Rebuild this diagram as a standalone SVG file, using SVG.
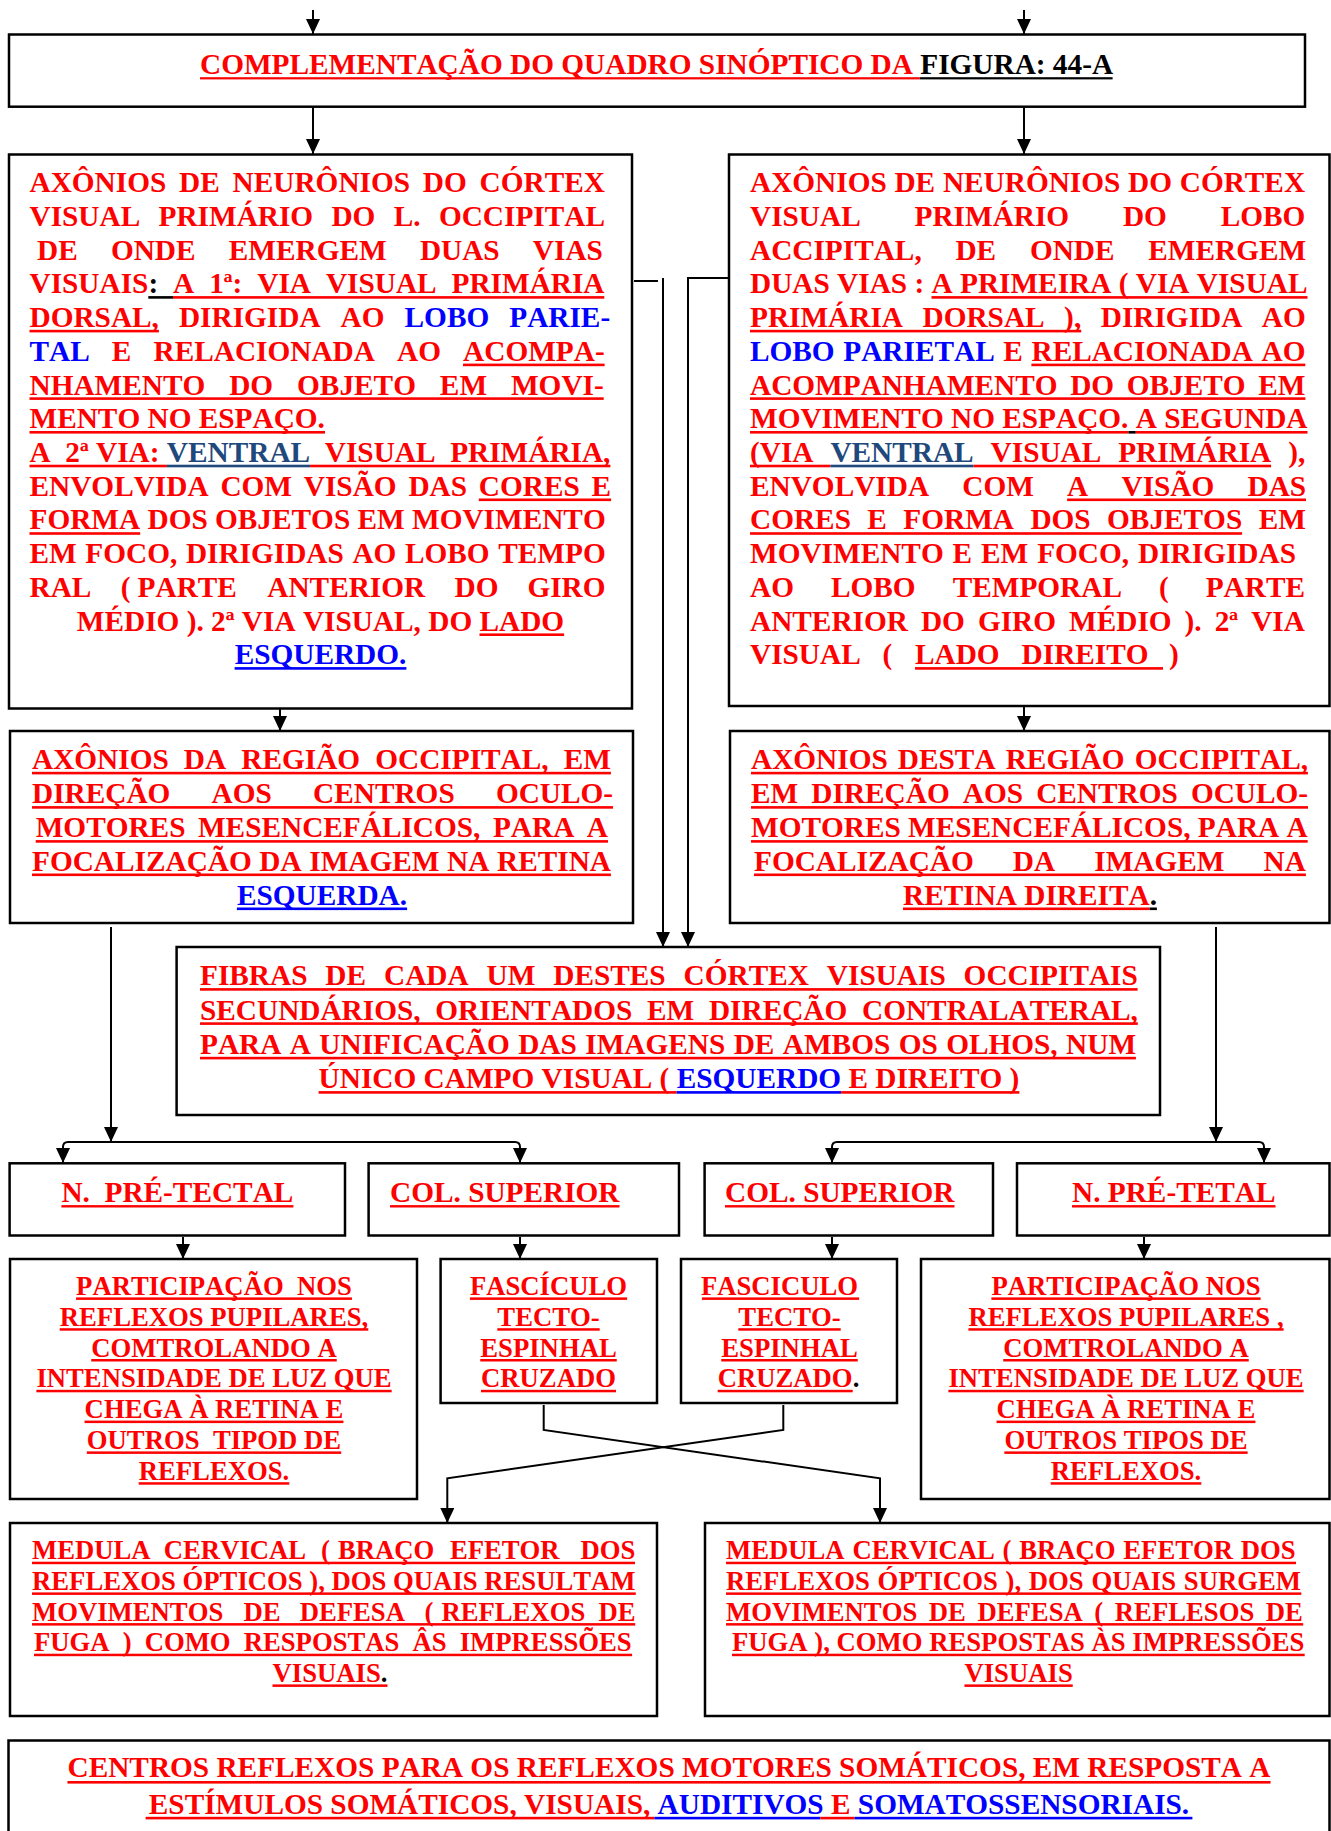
<svg xmlns="http://www.w3.org/2000/svg" width="1331" height="1831" viewBox="0 0 1331 1831">
<style>
  text { font-family: "Liberation Serif", "Times New Roman", serif; font-weight: bold; font-size: 29.3px; fill: #f00; font-kerning: none; }
  text.s { font-size: 26.7px; }
  text.m { text-anchor: middle; }
  .b { fill: #00f; }
  .k { fill: #000; }
  .v { fill: #1f497d; }
  .bx { fill: #fff; stroke: #000; stroke-width: 2.5; }
  .ln { fill: none; stroke: #000; stroke-width: 2; }
  .ar { marker-end: url(#ah); }
  /* underline bars */
  .ur { fill: #f00; }
  .ub { fill: #00f; }
  .uk { fill: #000; }
  .uv { fill: #1f497d; }
</style>
<defs>
  <marker id="ah" markerWidth="16" markerHeight="14" refX="15" refY="7" orient="auto" markerUnits="userSpaceOnUse">
    <path d="M0,0 L15,7 L0,14 z" fill="#000"/>
  </marker>
</defs>
<rect width="1331" height="1831" fill="#fff"/>

<!-- connectors -->
<g id="connectors">
  <path class="ln ar" d="M313,10 V34"/>
  <path class="ln ar" d="M1024,10 V34"/>
  <path class="ln ar" d="M313,107 V154"/>
  <path class="ln ar" d="M1024,107 V154"/>
  <path class="ln ar" d="M280,709 V731"/>
  <path class="ln ar" d="M1024,706 V731"/>
  <path class="ln" d="M634,281 H658"/>
  <path class="ln ar" d="M663,278 V947"/>
  <path class="ln ar" d="M729,278 H688 V947"/>
  <path class="ln ar" d="M111,927 V1142"/>
  <path class="ln ar" d="M111,1142 H68 Q63,1142 63,1147 V1163"/>
  <path class="ln ar" d="M111,1142 H515 Q520,1142 520,1147 V1163"/>
  <path class="ln ar" d="M1216,927 V1142"/>
  <path class="ln ar" d="M1216,1142 H837 Q832,1142 832,1147 V1163"/>
  <path class="ln ar" d="M1216,1142 H1259 Q1264,1142 1264,1147 V1163"/>
  <path class="ln ar" d="M183,1237 V1259"/>
  <path class="ln ar" d="M520,1237 V1259"/>
  <path class="ln ar" d="M832,1237 V1259"/>
  <path class="ln ar" d="M1144,1237 V1259"/>
  <path class="ln ar" d="M543.7,1405 V1430 L880,1478.3 V1523"/>
  <path class="ln ar" d="M783.3,1405 V1430 L447.3,1478.3 V1523"/>
</g>

<g id="title">
  <rect class="bx" x="9" y="34.5" width="1296" height="72.2"/>
  <text x="200" y="74.3">COMPLEMENTAÇÃO DO QUADRO SINÓPTICO DA <tspan class="k">FIGURA: 44-A</tspan></text>
  <rect class="ur" x="200" y="77.2" width="719.7" height="2.2"/>
  <rect class="uk" x="919.7" y="77.2" width="192.9" height="2.2"/>
</g>

<g id="left-primary">
  <rect class="bx" x="9" y="154.5" width="623" height="554"/>
  <text x="29.5" y="192.1" word-spacing="5.5">AXÔNIOS DE NEURÔNIOS DO CÓRTEX</text>
  <text x="29.5" y="225.8" word-spacing="11">VISUAL PRIMÁRIO DO L. OCCIPITAL</text>
  <text x="37" y="259.6" word-spacing="25.9">DE ONDE EMERGEM DUAS VIAS</text>
  <text x="29.5" y="293.3" word-spacing="7.6">VISUAIS<tspan class="k">: </tspan>A 1ª: VIA VISUAL PRIMÁRIA</text>
  <text x="29.5" y="327" word-spacing="12.7">DORSAL, DIRIGIDA AO <tspan class="b">LOBO PARIE-</tspan></text>
  <text x="29.5" y="360.8" word-spacing="14.8"><tspan class="b">TAL</tspan> E RELACIONADA AO ACOMPA-</text>
  <text x="29.5" y="394.5" word-spacing="16.6">NHAMENTO DO OBJETO EM MOVI-</text>
  <text x="29.5" y="428.2">MENTO NO ESPAÇO.</text>
  <text x="29.5" y="461.9" xml:space="preserve">A  2ª VIA: <tspan class="v">VENTRAL</tspan>  VISUAL  PRIMÁRIA,</text>
  <text x="29.5" y="495.7" word-spacing="4.5">ENVOLVIDA COM VISÃO DAS CORES E</text>
  <text x="29.5" y="529.4">FORMA DOS OBJETOS EM MOVIMENTO</text>
  <text x="29.5" y="563.1" word-spacing="1.3">EM FOCO, DIRIGIDAS AO LOBO TEMPO</text>
  <text y="596.9"><tspan x="29.5">RAL</tspan><tspan x="120.8">(</tspan><tspan x="137.6">PARTE</tspan><tspan x="267.3">ANTERIOR</tspan><tspan x="454.5">DO</tspan><tspan x="527.4">GIRO</tspan></text>
  <text class="m" x="320.5" y="630.6">MÉDIO ). 2ª VIA VISUAL, DO LADO</text>
  <text class="m b" x="320.5" y="664.3">ESQUERDO.</text>
  <rect class="uk" x="148.3" y="296.1" width="24.7" height="2.6"/>
  <rect class="ur" x="173" y="296.1" width="431.3" height="2.6"/>
  <rect class="ur" x="29.5" y="329.8" width="129.4" height="2.6"/>
  <rect class="ur" x="463" y="363.6" width="141.6" height="2.6"/>
  <rect class="ur" x="29.5" y="397.3" width="574.2" height="2.6"/>
  <rect class="ur" x="29.5" y="431" width="295.5" height="2.6"/>
  <rect class="ur" x="29.5" y="464.7" width="137.4" height="2.6"/>
  <rect class="uv" x="166.9" y="464.7" width="143.2" height="2.6"/>
  <rect class="ur" x="310.1" y="464.7" width="300.3" height="2.6"/>
  <rect class="ur" x="478.8" y="498.5" width="132.3" height="2.6"/>
  <rect class="ur" x="29.5" y="532.2" width="110.7" height="2.6"/>
  <rect class="ur" x="479.5" y="633.4" width="84.6" height="2.6"/>
  <rect class="ub" x="234.6" y="667.1" width="171.8" height="2.6"/>
</g>

<g id="right-primary">
  <rect class="bx" x="729" y="154.5" width="600.5" height="551.5"/>
  <text x="750" y="192.1" word-spacing="0.4">AXÔNIOS DE NEURÔNIOS DO CÓRTEX</text>
  <text x="750" y="225.8" word-spacing="46.5">VISUAL PRIMÁRIO DO LOBO</text>
  <text x="750" y="259.6" word-spacing="26.4">ACCIPITAL, DE ONDE EMERGEM</text>
  <text x="750" y="293.3">DUAS VIAS : A PRIMEIRA ( VIA VISUAL</text>
  <text x="750" y="327" word-spacing="12.2">PRIMÁRIA DORSAL ), DIRIGIDA AO</text>
  <text x="750" y="360.8" word-spacing="1.3"><tspan class="b">LOBO PARIETAL</tspan> E RELACIONADA AO</text>
  <text x="750" y="394.5" word-spacing="5.3">ACOMPANHAMENTO DO OBJETO EM</text>
  <text x="750" y="428.2">MOVIMENTO NO ESPAÇO. A SEGUNDA</text>
  <text x="750" y="461.9" word-spacing="9.6">(VIA <tspan class="v">VENTRAL</tspan> VISUAL PRIMÁRIA ),</text>
  <text x="750" y="495.7" word-spacing="25.9">ENVOLVIDA COM A VISÃO DAS</text>
  <text x="750" y="529.4" word-spacing="9.1">CORES E FORMA DOS OBJETOS EM</text>
  <text x="750" y="563.1" word-spacing="1.6">MOVIMENTO E EM FOCO, DIRIGIDAS</text>
  <text x="750" y="596.9" word-spacing="29.7">AO LOBO TEMPORAL ( PARTE</text>
  <text x="750" y="630.6" word-spacing="5.7">ANTERIOR DO GIRO MÉDIO ). 2ª VIA</text>
  <text y="664.3"><tspan x="750">VISUAL</tspan><tspan x="882.5">(</tspan><tspan x="915">LADO</tspan><tspan x="1021.6">DIREITO</tspan><tspan x="1169">)</tspan></text>
  <rect class="ur" x="931.5" y="296.1" width="376" height="2.6"/>
  <rect class="ur" x="750" y="329.8" width="331.2" height="2.6"/>
  <rect class="ur" x="1031.4" y="363.6" width="273.9" height="2.6"/>
  <rect class="ur" x="750" y="397.3" width="555.4" height="2.6"/>
  <rect class="ur" x="750" y="431" width="378.5" height="2.6"/>
  <rect class="uk" x="1128.5" y="431" width="7.3" height="2.6"/>
  <rect class="ur" x="1135.8" y="431" width="171.7" height="2.6"/>
  <rect class="ur" x="750" y="464.7" width="80.4" height="2.6"/>
  <rect class="uv" x="830.4" y="464.7" width="143.2" height="2.6"/>
  <rect class="ur" x="973.6" y="464.7" width="297.5" height="2.6"/>
  <rect class="ur" x="1067.1" y="498.5" width="238.9" height="2.6"/>
  <rect class="ur" x="750" y="532.2" width="492.1" height="2.6"/>
  <rect class="ur" x="915" y="667.1" width="248" height="2.6"/>
</g>

<g id="left-oculomotor">
  <rect class="bx" x="10" y="731" width="623" height="192"/>
  <text x="32" y="769" word-spacing="7.8">AXÔNIOS DA REGIÃO OCCIPITAL, EM</text>
  <text x="32" y="803.3" word-spacing="33.9">DIREÇÃO AOS CENTROS OCULO-</text>
  <text x="35.7" y="837.3" word-spacing="5.2">MOTORES MESENCEFÁLICOS, PARA A</text>
  <text x="32" y="870.7" word-spacing="0.3">FOCALIZAÇÃO DA IMAGEM NA RETINA</text>
  <text class="m b" x="322" y="904.7">ESQUERDA.</text>
  <rect class="ur" x="32" y="771.8" width="578.9" height="2.6"/>
  <rect class="ur" x="32" y="806.1" width="581" height="2.6"/>
  <rect class="ur" x="35.7" y="840.1" width="572.3" height="2.6"/>
  <rect class="ur" x="32" y="873.5" width="578.9" height="2.6"/>
  <rect class="ub" x="236.9" y="907.5" width="170.2" height="2.6"/>
</g>

<g id="right-oculomotor">
  <rect class="bx" x="730" y="731" width="599.5" height="192"/>
  <text x="751" y="769" word-spacing="2.8">AXÔNIOS DESTA REGIÃO OCCIPITAL,</text>
  <text x="751" y="803.3" word-spacing="5.8">EM DIREÇÃO AOS CENTROS OCULO-</text>
  <text x="751" y="837.3">MOTORES MESENCEFÁLICOS, PARA A</text>
  <text x="754" y="870.7" word-spacing="31.8">FOCALIZAÇÃO DA IMAGEM NA</text>
  <text class="m" x="1030" y="904.7">RETINA DIREITA<tspan class="k">.</tspan></text>
  <rect class="ur" x="751" y="771.8" width="556.9" height="2.6"/>
  <rect class="ur" x="751" y="806.1" width="557" height="2.6"/>
  <rect class="ur" x="751" y="840.1" width="556.7" height="2.6"/>
  <rect class="ur" x="754" y="873.5" width="551.9" height="2.6"/>
  <rect class="ur" x="903" y="907.5" width="246.6" height="2.6"/>
  <rect class="uk" x="1149.6" y="907.5" width="7.3" height="2.6"/>
</g>

<g id="contralateral">
  <rect class="bx" x="176.6" y="947" width="983.4" height="168"/>
  <text x="200" y="985.3" word-spacing="10.6">FIBRAS DE CADA UM DESTES CÓRTEX VISUAIS OCCIPITAIS</text>
  <text x="200" y="1019.5" word-spacing="7.4">SECUNDÁRIOS, ORIENTADOS EM DIREÇÃO CONTRALATERAL,</text>
  <text x="200" y="1054" word-spacing="1.1">PARA A UNIFICAÇÃO DAS IMAGENS DE AMBOS OS OLHOS, NUM</text>
  <text class="m" x="669" y="1088.3">ÚNICO CAMPO VISUAL ( <tspan class="b">ESQUERDO</tspan> E DIREITO )</text>
  <rect class="ur" x="200" y="988.1" width="937.6" height="2.6"/>
  <rect class="ur" x="200" y="1022.3" width="937.8" height="2.6"/>
  <rect class="ur" x="200" y="1056.8" width="935.9" height="2.6"/>
  <rect class="ur" x="318.6" y="1091.1" width="358.1" height="2.6"/>
  <rect class="ub" x="676.7" y="1091.1" width="164.4" height="2.6"/>
  <rect class="ur" x="841.1" y="1091.1" width="178.3" height="2.6"/>
</g>

<g id="pretectal-left">
  <rect class="bx" x="9.6" y="1163.3" width="335.4" height="72.2"/>
  <text x="61.4" y="1202.3" xml:space="preserve">N.  PRÉ-TECTAL</text>
  <rect class="ur" x="61.4" y="1205.1" width="232" height="2.4"/>
</g>
<g id="colliculus-left">
  <rect class="bx" x="368.6" y="1163.3" width="310.4" height="72.2"/>
  <text x="390" y="1202.3">COL. SUPERIOR</text>
  <rect class="ur" x="390" y="1205.1" width="229.5" height="2.4"/>
</g>
<g id="colliculus-right">
  <rect class="bx" x="704.6" y="1163.3" width="288.4" height="72.2"/>
  <text x="725" y="1202.3">COL. SUPERIOR</text>
  <rect class="ur" x="725" y="1205.1" width="229.5" height="2.4"/>
</g>
<g id="pretectal-right">
  <rect class="bx" x="1017" y="1163.3" width="312.5" height="72.2"/>
  <text x="1072" y="1202.3">N. PRÉ-TETAL</text>
  <rect class="ur" x="1072" y="1205.1" width="203.5" height="2.4"/>
</g>

<g id="pupillary-left">
  <rect class="bx" x="10" y="1259" width="407" height="240"/>
  <text class="s m" x="214" y="1295" xml:space="preserve">PARTICIPAÇÃO  NOS</text>
  <text class="s m" x="214" y="1325.8">REFLEXOS PUPILARES,</text>
  <text class="s m" x="214" y="1356.6">COMTROLANDO A</text>
  <text class="s m" x="214" y="1387.4">INTENSIDADE DE LUZ QUE</text>
  <text class="s m" x="214" y="1418.2">CHEGA À RETINA E</text>
  <text class="s m" x="214" y="1449" xml:space="preserve">OUTROS  TIPOD DE</text>
  <text class="s m" x="214" y="1479.8">REFLEXOS.</text>
  <rect class="ur" x="76.05" y="1297.4" width="275.9" height="2.5"/>
  <rect class="ur" x="59.7" y="1328.2" width="308.6" height="2.5"/>
  <rect class="ur" x="91.25" y="1359" width="245.5" height="2.5"/>
  <rect class="ur" x="36.35" y="1389.8" width="355.3" height="2.5"/>
  <rect class="ur" x="84.55" y="1420.6" width="258.9" height="2.5"/>
  <rect class="ur" x="86.8" y="1451.4" width="254.4" height="2.5"/>
  <rect class="ur" x="138.7" y="1482.2" width="150.6" height="2.5"/>
</g>

<g id="tectospinal-left">
  <rect class="bx" x="440.6" y="1259" width="216.4" height="144"/>
  <text class="s m" x="548.5" y="1295">FASCÍCULO</text>
  <text class="s m" x="548.5" y="1325.8">TECTO-</text>
  <text class="s m" x="548.5" y="1356.6">ESPINHAL</text>
  <text class="s m" x="548.5" y="1387.4">CRUZADO</text>
  <rect class="ur" x="469.9" y="1297.4" width="157.2" height="2.5"/>
  <rect class="ur" x="497.3" y="1328.2" width="102.4" height="2.5"/>
  <rect class="ur" x="480.25" y="1359" width="136.5" height="2.5"/>
  <rect class="ur" x="481" y="1389.8" width="135" height="2.5"/>
</g>

<g id="tectospinal-right">
  <rect class="bx" x="681" y="1259" width="216" height="144"/>
  <text class="s m" x="779.5" y="1295">FASCICULO</text>
  <text class="s m" x="789.5" y="1325.8">TECTO-</text>
  <text class="s m" x="789.5" y="1356.6">ESPINHAL</text>
  <text class="s m" x="788.5" y="1387.4">CRUZADO<tspan class="k">.</tspan></text>
  <rect class="ur" x="701.9" y="1297.4" width="157.2" height="2.5"/>
  <rect class="ur" x="738.3" y="1328.2" width="102.4" height="2.5"/>
  <rect class="ur" x="721.25" y="1359" width="136.5" height="2.5"/>
  <rect class="ur" x="717.7" y="1389.8" width="135" height="2.5"/>
</g>

<g id="pupillary-right">
  <rect class="bx" x="921" y="1259" width="408.5" height="240"/>
  <text class="s m" x="1126" y="1295">PARTICIPAÇÃO NOS</text>
  <text class="s m" x="1126" y="1325.8">REFLEXOS PUPILARES ,</text>
  <text class="s m" x="1126" y="1356.6">COMTROLANDO A</text>
  <text class="s m" x="1126" y="1387.4">INTENSIDADE DE LUZ QUE</text>
  <text class="s m" x="1126" y="1418.2">CHEGA À RETINA E</text>
  <text class="s m" x="1126" y="1449">OUTROS TIPOS DE</text>
  <text class="s m" x="1126" y="1479.8">REFLEXOS.</text>
  <rect class="ur" x="991.4" y="1297.4" width="269.2" height="2.5"/>
  <rect class="ur" x="968.4" y="1328.2" width="315.2" height="2.5"/>
  <rect class="ur" x="1003.25" y="1359" width="245.5" height="2.5"/>
  <rect class="ur" x="948.35" y="1389.8" width="355.3" height="2.5"/>
  <rect class="ur" x="996.55" y="1420.6" width="258.9" height="2.5"/>
  <rect class="ur" x="1004.35" y="1451.4" width="243.3" height="2.5"/>
  <rect class="ur" x="1050.7" y="1482.2" width="150.6" height="2.5"/>
</g>

<g id="cervical-left">
  <rect class="bx" x="10" y="1523" width="647" height="193"/>
  <text class="s" y="1559.3"><tspan x="32">MEDULA</tspan><tspan x="163.8">CERVICAL</tspan><tspan x="320.9">(</tspan><tspan x="337.9">BRAÇO</tspan><tspan x="449.9">EFETOR</tspan><tspan x="580.5">DOS</tspan></text>
  <text class="s" x="32" y="1590">REFLEXOS ÓPTICOS ), DOS QUAIS RESULTAM</text>
  <text class="s" y="1620.7"><tspan x="32">MOVIMENTOS</tspan><tspan x="243.6">DE</tspan><tspan x="299.7">DEFESA</tspan><tspan x="424.4">(</tspan><tspan x="441.4">REFLEXOS</tspan><tspan x="598.5">DE</tspan></text>
  <text class="s" x="34" y="1651.3" word-spacing="6.4">FUGA ) COMO RESPOSTAS ÂS IMPRESSÕES</text>
  <text class="s m" x="330" y="1682">VISUAIS<tspan class="k">.</tspan></text>
  <rect class="ur" x="32" y="1561.7" width="603" height="2.5"/>
  <rect class="ur" x="32" y="1592.4" width="603.8" height="2.5"/>
  <rect class="ur" x="32" y="1623.1" width="603.2" height="2.5"/>
  <rect class="ur" x="34" y="1653.7" width="598.1" height="2.5"/>
  <rect class="ur" x="272.5" y="1684.4" width="115" height="2.5"/>
</g>

<g id="cervical-right">
  <rect class="bx" x="705" y="1523" width="624.5" height="193"/>
  <text class="s" x="726" y="1559.3" word-spacing="1.1">MEDULA CERVICAL ( BRAÇO EFETOR DOS</text>
  <text class="s" x="726" y="1590" word-spacing="1.1">REFLEXOS ÓPTICOS ), DOS QUAIS SURGEM</text>
  <text class="s" x="726" y="1620.7" word-spacing="4.9">MOVIMENTOS DE DEFESA ( REFLESOS DE</text>
  <text class="s" x="732" y="1651.3">FUGA ), COMO RESPOSTAS ÀS IMPRESSÕES</text>
  <text class="s m" x="1018.6" y="1682">VISUAIS</text>
  <rect class="ur" x="726" y="1561.7" width="570" height="2.5"/>
  <rect class="ur" x="726" y="1592.4" width="575.3" height="2.5"/>
  <rect class="ur" x="726" y="1623.1" width="577.2" height="2.5"/>
  <rect class="ur" x="732" y="1653.7" width="572.7" height="2.5"/>
  <rect class="ur" x="964.45" y="1684.4" width="108.3" height="2.5"/>
</g>

<g id="reflex-centres">
  <rect class="bx" x="8.5" y="1740.5" width="1321" height="110"/>
  <text class="m" x="669" y="1777">CENTROS REFLEXOS PARA OS REFLEXOS MOTORES SOMÁTICOS, EM RESPOSTA A</text>
  <text class="m" x="669" y="1813.5">ESTÍMULOS SOMÁTICOS, VISUAIS, <tspan class="b">AUDITIVOS</tspan> E <tspan class="b">SOMATOSSENSORIAIS.</tspan></text>
  <rect class="ur" x="67.45" y="1781" width="1203.1" height="2.6"/>
  <rect class="ur" x="145.6" y="1816.8" width="508.8" height="2.6"/>
  <rect class="ub" x="654.4" y="1816.8" width="166" height="2.6"/>
  <rect class="ur" x="820.4" y="1816.8" width="34.2" height="2.6"/>
  <rect class="ub" x="854.6" y="1816.8" width="337.8" height="2.6"/>
</g>
</svg>
